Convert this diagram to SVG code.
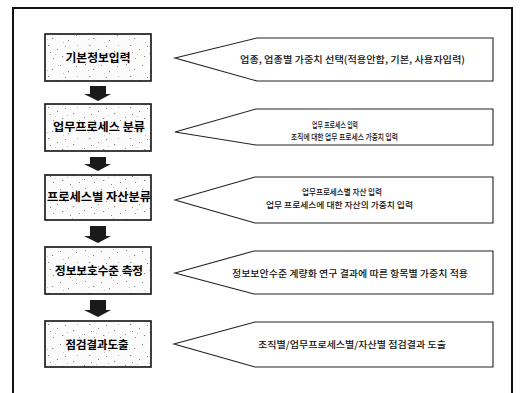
<svg xmlns="http://www.w3.org/2000/svg" width="520" height="393" viewBox="0 0 520 393">
<defs>
<pattern id="speck" width="41" height="31" patternUnits="userSpaceOnUse">
<rect width="41" height="31" fill="#fbfbfb"/>
<g fill="#8a8a8a">
<rect x="3" y="2" width="1" height="1"/><rect x="11" y="7" width="1.2" height="1"/><rect x="19" y="3" width="1" height="1"/>
<rect x="27" y="9" width="1" height="1.3"/><rect x="35" y="4" width="1" height="1"/><rect x="7" y="14" width="1.3" height="1"/>
<rect x="16" y="18" width="1" height="1"/><rect x="24" y="15" width="1" height="1"/><rect x="32" y="20" width="1.2" height="1.2"/>
<rect x="2" y="24" width="1" height="1"/><rect x="12" y="27" width="1" height="1"/><rect x="21" y="25" width="1.3" height="1"/>
<rect x="38" y="27" width="1" height="1"/><rect x="29" y="29" width="1" height="1"/><rect x="9" y="21" width="1" height="1"/>
</g>
<g fill="#c4c4c4">
<rect x="6" y="8" width="1" height="1"/><rect x="22" y="11" width="1" height="1"/><rect x="36" y="14" width="1" height="1"/>
<rect x="14" y="23" width="1" height="1"/><rect x="31" y="1" width="1" height="1"/><rect x="26" y="22" width="1" height="1"/>
</g>
</pattern>
<style>
.box{fill:url(#speck);stroke:#111;stroke-width:1.6}
.btxt{font-family:"Noto Sans CJK KR","Noto Sans",sans-serif;font-weight:700;font-size:11px;fill:#000;text-anchor:middle}
.call{fill:#fff;stroke:#222;stroke-width:1.1}
.ctxt{font-family:"Noto Sans CJK KR","Noto Sans",sans-serif;font-weight:500;font-size:9.5px;fill:#111}
.ctxs{font-family:"Noto Sans CJK KR","Noto Sans",sans-serif;font-weight:500;font-size:8.5px;fill:#111}
.arr{fill:#1a1a1a}
</style>
</defs>
<rect x="0" y="0" width="520" height="393" fill="#fff"/>
<rect x="13" y="8" width="499" height="395" fill="none" stroke="#111" stroke-width="2"/>

<g id="node-1">
<rect class="box" x="45" y="34" width="106" height="47"/>
<text class="btxt" x="98" y="62" textLength="65" lengthAdjust="spacingAndGlyphs">기본정보입력</text>
</g>
<g id="node-2">
<rect class="box" x="45" y="104" width="106" height="47"/>
<text class="btxt" x="99" y="131" textLength="92" lengthAdjust="spacingAndGlyphs">업무프로세스 분류</text>
</g>
<g id="node-3">
<rect class="box" x="45" y="175" width="106" height="45"/>
<text class="btxt" x="99" y="201" textLength="104" lengthAdjust="spacingAndGlyphs">프로세스별 자산분류</text>
</g>
<g id="node-4">
<rect class="box" x="45" y="247" width="106" height="47"/>
<text class="btxt" x="99" y="274.5" textLength="88" lengthAdjust="spacingAndGlyphs">정보보호수준 측정</text>
</g>
<g id="node-5">
<rect class="box" x="45" y="321" width="106" height="46"/>
<text class="btxt" x="97" y="348.5" textLength="63" lengthAdjust="spacingAndGlyphs">점검결과도출</text>
</g>

<g id="callout-1">
<polygon class="call" points="175,58 257,38 493,38 493,81 257,81"/>
<text class="ctxt" x="240" y="62.5" textLength="225" lengthAdjust="spacingAndGlyphs">업종, 업종별 가중치 선택(적용안함, 기본, 사용자입력)</text>
</g>
<g id="callout-2">
<polygon class="call" points="175,132 256,109 493,109 493,145 256,145"/>
<text class="ctxs" x="312" y="127.5" textLength="46" lengthAdjust="spacingAndGlyphs">업무 프로세스 입력</text>
<text class="ctxs" x="291" y="140" textLength="107" lengthAdjust="spacingAndGlyphs">조직에 대한 업무 프로세스 가중치 입력</text>
</g>
<g id="callout-3">
<polygon class="call" points="175,200 255,177 493,177 493,223 255,223"/>
<text class="ctxs" x="302" y="195" textLength="80" lengthAdjust="spacingAndGlyphs">업무프로세스별 자산 입력</text>
<text class="ctxs" x="266" y="207.5" textLength="147" lengthAdjust="spacingAndGlyphs">업무 프로세스에 대한 자산의 가중치 입력</text>
</g>
<g id="callout-4">
<polygon class="call" points="175,273 254,251 493,251 493,294 254,294"/>
<text class="ctxt" x="232" y="276.6" textLength="236" lengthAdjust="spacingAndGlyphs">정보보안수준 계량화 연구 결과에 따른 항목별 가중치 적용</text>
</g>
<g id="callout-5">
<polygon class="call" points="174,344 255,322 493,322 493,367 255,367"/>
<text class="ctxt" x="258" y="347.6" textLength="188" lengthAdjust="spacingAndGlyphs">조직별/업무프로세스별/자산별 점검결과 도출</text>
</g>

<g id="connectors">
<polygon class="arr" points="90,86 106,86 106,94 111,94 98,101 84,94 90,94"/>
<polygon class="arr" points="90,157 106,157 106,164 111,164 98,171 84,164 90,164"/>
<polygon class="arr" points="90,226 106,226 106,236 111,236 98,243 84,236 90,236"/>
<polygon class="arr" points="90,300 106,300 106,310 111,310 98,317 84,310 90,310"/>
</g>
</svg>
